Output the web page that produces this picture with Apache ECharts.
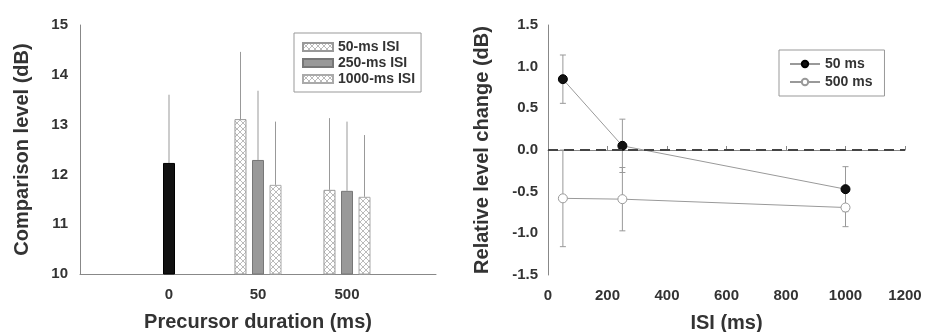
<!DOCTYPE html>
<html lang="en">
<head>
    <meta charset="UTF-8">
    <title>precursor_isi</title>
    <script src="https://cdn.jsdelivr.net/npm/echarts@6/dist/echarts.min.js"></script>
    <style>
        html, body { margin: 0; padding: 0; background: #fff; }
        #chart { width: 925px; height: 332px; }
    </style>
</head>
<body>
<div id="chart"></div>
<script>
    // left panel: comparison level by precursor duration
    var durations = ['0', '50', '500'];
    var isiNames = ['50-ms ISI', '250-ms ISI', '1000-ms ISI'];
    var noPrecursor = 12.23;         // black bar at 0 ms
    var noPrecursorErr = 1.37;
    var isi50 = [13.11, 11.69];      // at 50, 500
    var isi250 = [12.29, 11.67];
    var isi1000 = [11.79, 11.55];
    var isi50Err = [1.35, 1.44];
    var isi250Err = [1.39, 1.39];
    var isi1000Err = [1.27, 1.24];
    var leftTicks = [10, 11, 12, 13, 14, 15];

    // right panel: relative level change by ISI
    var isiMs = [50, 250, 1000];
    var lineNames = ['50 ms', '500 ms'];
    var change50 = [0.85, 0.05, -0.47];
    var change50Err = [0.29, 0.32, 0.27];
    var change500 = [-0.58, -0.59, -0.69];
    var change500Err = [0.58, 0.38, 0.23];

    var txt = '#333';
    var axisGray = '#888';
    var font = 'Liberation Sans';

    // crosshatch fill for the white bars
    function hatch() {
        var c = document.createElement('canvas');
        c.width = 6; c.height = 6;
        var g = c.getContext('2d');
        g.fillStyle = '#fff';
        g.fillRect(0, 0, 6, 6);
        g.strokeStyle = '#bbb';
        g.lineWidth = 1;
        g.beginPath();
        g.moveTo(0, 0); g.lineTo(6, 6);
        g.moveTo(6, 0); g.lineTo(0, 6);
        g.stroke();
        return { image: c, repeat: 'repeat' };
    }
    var pat = hatch();

    var cats = [''].concat(durations).concat(['']);
    function pad(arr) { return [null, null].concat(arr).concat([null]); }

    var mid = pad(isi250);
    mid[1] = { value: noPrecursor, itemStyle: { color: '#111', borderColor: '#000' } };

    // error bar points for left panel: [catIndex, top, value, offsetIndex]
    var barErrs = [[1, noPrecursor + noPrecursorErr, noPrecursor, 1]];
    [isi50, isi250, isi1000].forEach(function (s, k) {
        var e = [isi50Err, isi250Err, isi1000Err][k];
        s.forEach(function (v, i) { barErrs.push([i + 2, v + e[i], v, k]); });
    });
    var offs = [-17.5, 0, 17.5];

    function errRight(vals, errs) {
        return isiMs.map(function (x, i) { return [x, vals[i] - errs[i], vals[i] + errs[i]]; });
    }
    function renderErr(params, api) {
        var x = api.value(0);
        var lo = api.coord([x, api.value(1)]);
        var hi = api.coord([x, api.value(2)]);
        return {
            type: 'group',
            children: [
                { type: 'line', shape: { x1: lo[0], y1: lo[1], x2: hi[0], y2: hi[1] }, style: { stroke: '#999', lineWidth: 1 } },
                { type: 'line', shape: { x1: lo[0] - 3, y1: lo[1], x2: lo[0] + 3, y2: lo[1] }, style: { stroke: '#999', lineWidth: 1 } },
                { type: 'line', shape: { x1: hi[0] - 3, y1: hi[1], x2: hi[0] + 3, y2: hi[1] }, style: { stroke: '#999', lineWidth: 1 } }
            ]
        };
    }

    var tickFont = { fontSize: 15, fontWeight: 'bold', color: txt };
    var nameFont = { fontSize: 20, fontWeight: 'bold', color: txt };

    var chart = echarts.init(document.getElementById('chart'));
    chart.setOption({
        animation: false,
        textStyle: { fontFamily: font },
        grid: [
            { left: 80, top: 25, width: 356, height: 249, outerBoundsMode: 'none' },
            { left: 548, top: 25, width: 357, height: 250, outerBoundsMode: 'none' }
        ],
        legend: [
            {
                data: isiNames, orient: 'vertical', left: 294, top: 33,
                icon: 'rect', itemWidth: 30, itemHeight: 8, itemGap: 2,
                padding: [7, 6, 6, 8],
                borderColor: '#999', borderWidth: 1,
                textStyle: { fontSize: 14, fontWeight: 'bold', color: txt }
            },
            {
                data: lineNames, orient: 'vertical', left: 779, top: 50,
                itemWidth: 30, itemHeight: 8, itemGap: 4,
                padding: [7, 12, 7, 10],
                borderColor: '#999', borderWidth: 1,
                textStyle: { fontSize: 14, fontWeight: 'bold', color: txt }
            }
        ],
        xAxis: [
            {
                gridIndex: 0, type: 'category', data: cats, boundaryGap: false,
                axisLine: { lineStyle: { color: axisGray } },
                axisTick: { show: false },
                axisLabel: Object.assign({ margin: 13 }, tickFont),
                name: 'Precursor duration (ms)', nameLocation: 'middle', nameGap: 38,
                nameTextStyle: nameFont
            },
            {
                gridIndex: 1, type: 'value', min: 0, max: 1200, interval: 200,
                axisLine: { lineStyle: { color: axisGray } },
                axisTick: { inside: true, length: 4, lineStyle: { color: axisGray } },
                splitLine: { show: false },
                axisLabel: Object.assign({ margin: 13, formatter: function (v) { return String(v); } }, tickFont),
                name: 'ISI (ms)', nameLocation: 'middle', nameGap: 38,
                nameTextStyle: nameFont
            }
        ],
        yAxis: [
            {
                gridIndex: 0, type: 'value', min: leftTicks[0], max: leftTicks[leftTicks.length - 1], interval: 1,
                axisLine: { show: true, lineStyle: { color: axisGray } },
                axisTick: { show: false },
                splitLine: { show: false },
                axisLabel: Object.assign({ margin: 12 }, tickFont),
                name: 'Comparison level (dB)', nameLocation: 'middle', nameGap: 48,
                nameTextStyle: nameFont
            },
            {
                gridIndex: 1, type: 'value', min: -1.5, max: 1.5, interval: 0.5,
                axisLine: { show: true, onZero: false, lineStyle: { color: axisGray } },
                axisTick: { show: false },
                splitLine: { show: false },
                axisLabel: Object.assign({ margin: 10, formatter: function (v) { return v.toFixed(1); } }, tickFont),
                name: 'Relative level change (dB)', nameLocation: 'middle', nameGap: 56,
                nameTextStyle: nameFont
            }
        ],
        series: [
            {
                name: isiNames[0], type: 'bar', xAxisIndex: 0, yAxisIndex: 0,
                data: pad(isi50), barWidth: 12, barGap: '46%',
                itemStyle: { color: pat, borderColor: '#999', borderWidth: 1 }
            },
            {
                name: isiNames[1], type: 'bar', xAxisIndex: 0, yAxisIndex: 0,
                data: mid, barWidth: 12, barGap: '46%',
                itemStyle: { color: '#999', borderColor: '#777', borderWidth: 1 }
            },
            {
                name: isiNames[2], type: 'bar', xAxisIndex: 0, yAxisIndex: 0,
                data: pad(isi1000), barWidth: 12, barGap: '46%',
                itemStyle: { color: pat, borderColor: '#aaa', borderWidth: 1 }
            },
            {
                type: 'custom', xAxisIndex: 0, yAxisIndex: 0, data: barErrs, z: 1,
                renderItem: function (params, api) {
                    var top = api.coord([api.value(0), api.value(1)]);
                    var base = api.coord([api.value(0), api.value(2)]);
                    var dx = offs[api.value(3)];
                    return {
                        type: 'line',
                        shape: { x1: top[0] + dx, y1: top[1], x2: base[0] + dx, y2: base[1] },
                        style: { stroke: '#999', lineWidth: 1 }
                    };
                }
            },
            {
                type: 'custom', xAxisIndex: 1, yAxisIndex: 1, z: 1,
                data: errRight(change500, change500Err), renderItem: renderErr
            },
            {
                type: 'custom', xAxisIndex: 1, yAxisIndex: 1, z: 1,
                data: errRight(change50, change50Err), renderItem: renderErr
            },
            {
                name: lineNames[1], type: 'line', xAxisIndex: 1, yAxisIndex: 1,
                data: isiMs.map(function (x, i) { return [x, change500[i]]; }),
                symbol: 'circle', symbolSize: 9,
                lineStyle: { color: '#999', width: 1 },
                itemStyle: { color: '#fff', borderColor: '#999', borderWidth: 1 },
                z: 3
            },
            {
                name: lineNames[0], type: 'line', xAxisIndex: 1, yAxisIndex: 1,
                data: isiMs.map(function (x, i) { return [x, change50[i]]; }),
                symbol: 'circle', symbolSize: 9,
                lineStyle: { color: '#999', width: 1 },
                itemStyle: { color: '#111', borderColor: '#000', borderWidth: 1 },
                markLine: {
                    silent: true, symbol: 'none', label: { show: false },
                    lineStyle: { color: '#444', width: 2, type: [10, 6] },
                    data: [{ yAxis: 0 }]
                },
                z: 4
            }
        ]
    });
</script>
</body>
</html>
